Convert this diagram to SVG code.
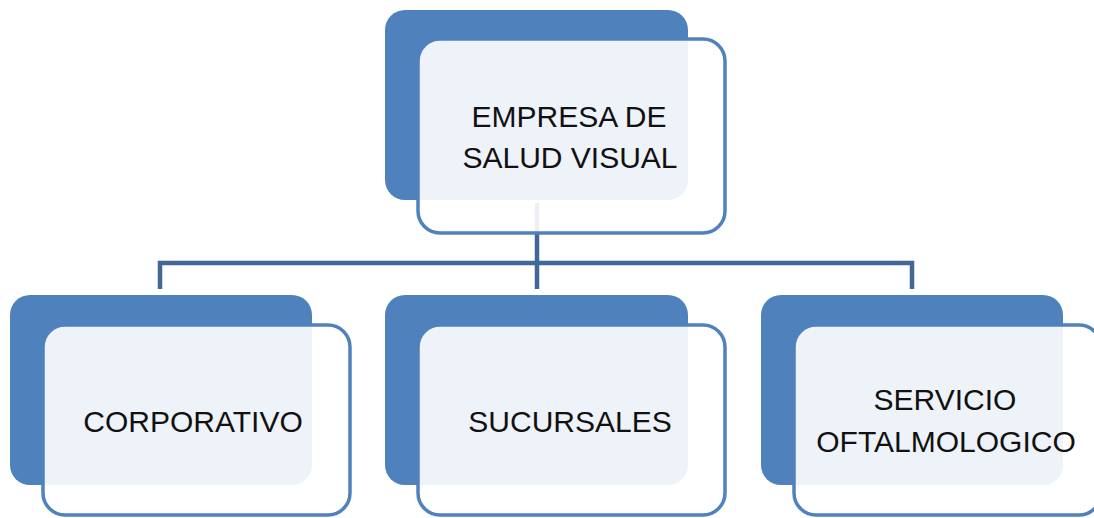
<svg xmlns="http://www.w3.org/2000/svg" width="1094" height="518" viewBox="0 0 1094 518">
<style>
.back{fill:#4f81bd}
.front{fill:#ffffff;fill-opacity:0.9;stroke:#4f81bd;stroke-width:3.5}
.conn{fill:none;stroke:#41679a;stroke-width:4.5;stroke-linejoin:miter}
.lbl{font-family:"Liberation Sans",Arial,sans-serif;font-size:30px;fill:#111111;text-anchor:middle}
</style>
<rect width="1094" height="518" fill="#ffffff"/>
<g id="connectors">
<path class="conn" d="M537 203 V263"/>
<path class="conn" d="M160 289 V263 H912 V289"/>
<path class="conn" d="M537 263 V289"/>
</g>
<g id="node-empresa">
<rect class="back" x="385" y="10" width="303" height="190" rx="20"/>
<rect class="front" x="418" y="39" width="307" height="194" rx="22"/>
<text class="lbl" x="569" y="127">EMPRESA DE</text>
<text class="lbl" x="570" y="168">SALUD VISUAL</text>
</g>
<g id="node-corporativo">
<rect class="back" x="10" y="295" width="302" height="190" rx="20"/>
<rect class="front" x="43" y="325" width="307" height="190" rx="22"/>
<text class="lbl" x="193" y="432">CORPORATIVO</text>
</g>
<g id="node-sucursales">
<rect class="back" x="385" y="295" width="303" height="190" rx="20"/>
<rect class="front" x="418" y="325" width="307" height="190" rx="22"/>
<text class="lbl" x="570" y="432">SUCURSALES</text>
</g>
<g id="node-servicio">
<rect class="back" x="761" y="295" width="302" height="190" rx="20"/>
<rect class="front" x="794" y="325" width="307" height="190" rx="22"/>
<text class="lbl" x="945" y="410">SERVICIO</text>
<text class="lbl" x="946" y="452">OFTALMOLOGICO</text>
</g>
</svg>
